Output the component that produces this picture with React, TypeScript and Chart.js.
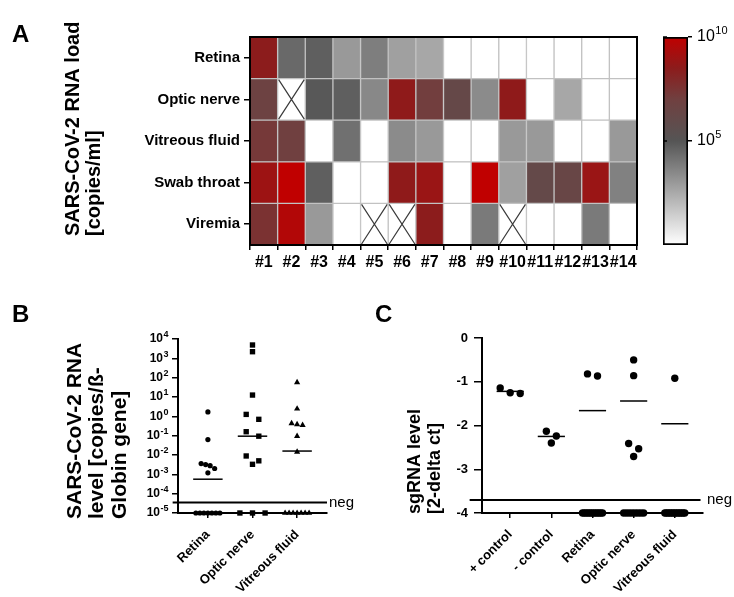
import React, { useEffect, useRef } from 'react';
import { Chart, registerables } from 'chart.js';

Chart.register(...registerables);

const FAMILY = "'Liberation Sans', Arial, sans-serif";
Chart.defaults.font.family = FAMILY;
Chart.defaults.color = '#000';

// ---------------- Panel A data (log10 copies/ml; 0 = negative, null = not tested) ----------------
const heatCols = ['#1', '#2', '#3', '#4', '#5', '#6', '#7', '#8', '#9', '#10', '#11', '#12', '#13', '#14'];
const heatRows = ['Retina', 'Optic nerve', 'Vitreous fluid', 'Swab throat', 'Viremia'];
const retinaLoad = [8.5, 4.4, 4.7, 3.0, 3.8, 2.8, 2.6, 0, 0, 0, 0, 0, 0, 0];
const opticLoad = [6.8, null, 4.9, 4.7, 3.5, 8.6, 7.1, 6.2, 3.4, 8.6, 0, 2.6, 0, 0];
const vitreousLoad = [7.3, 7.0, 0, 4.2, 0, 3.4, 3.0, 0, 0, 3.0, 3.0, 0, 0, 3.0];
const swabLoad = [9.0, 10.0, 4.7, 0, 0, 8.6, 8.9, 0, 10.0, 2.8, 6.1, 6.4, 8.9, 3.7];
const viremiaLoad = [7.6, 9.6, 3.0, 0, null, null, 8.5, 0, 3.9, null, 0, 0, 3.9, 0];
const colorbarRange = [1, 1e10];
const colorbarTicks = [1e5, 1e10];

// ---------------- Panel B data ----------------
const bCats = ['Retina', 'Optic nerve', 'Vitreous fluid'];
const bRetina = [1.7, 0.063, 3.6e-3, 3.2e-3, 2.8e-3, 2.0e-3, 1.2e-3, 1e-5, 1e-5, 1e-5, 1e-5, 1e-5, 1e-5, 1e-5];
const bOptic = [4.9e3, 2.2e3, 12.6, 1.26, 0.7, 0.16, 0.094, 8.9e-3, 5e-3, 3.3e-3, 1e-5, 1e-5, 1e-5];
const bVitreous = [57, 2.45, 0.43, 0.38, 0.35, 0.094, 0.0145, 1e-5, 1e-5, 1e-5, 1e-5, 1e-5, 1e-5, 1e-5];
const bMedians = [5.6e-4, 0.094, 0.016];
const bNeg = 3.5e-5;
const bTicks = [1e-5, 1e-4, 1e-3, 1e-2, 1e-1, 1, 10, 100, 1e3, 1e4];

// ---------------- Panel C data ----------------
const cCats = ['+ control', '- control', 'Retina', 'Optic nerve', 'Vitreous fluid'];
const cPosCtrl = [-1.14, -1.25, -1.27];
const cNegCtrl = [-2.13, -2.24, -2.4];
const cRetina = [-0.82, -0.87, -4, -4, -4, -4, -4, -4, -4, -4, -4, -4, -4, -4];
const cOptic = [-0.5, -0.86, -2.41, -2.53, -2.71, -4, -4, -4, -4, -4, -4, -4, -4];
const cVitreous = [-0.92, -4, -4, -4, -4, -4, -4, -4, -4, -4, -4, -4, -4, -4];
const cMedians = [-1.22, -2.25, -1.66, -1.44, -1.96];
const cNeg = -3.7;
const cTicks = [-4, -3, -2, -1, 0];

// ---------------- helpers ----------------
const HEAT_STOPS: [number, number[]][] = [
  [0, [255, 255, 255]],
  [5, [85, 85, 85]],
  [7, [112, 64, 64]],
  [8.5, [140, 28, 28]],
  [10, [192, 0, 0]],
];
const rgb = (c: number[]) => `rgb(${c.map((x) => Math.round(x)).join(',')})`;
function heatColor(v: number) {
  if (v <= HEAT_STOPS[0][0]) return rgb(HEAT_STOPS[0][1]);
  for (let i = 1; i < HEAT_STOPS.length; i++) {
    const [b, cb] = HEAT_STOPS[i];
    if (v <= b) {
      const [a, ca] = HEAT_STOPS[i - 1];
      const t = (v - a) / (b - a);
      return rgb(ca.map((x, k) => x + (cb[k] - x) * t));
    }
  }
  return rgb(HEAT_STOPS[HEAT_STOPS.length - 1][1]);
}

const exponentOf = (v: number) => String(Math.round(Math.log10(v)));

// scatter-dot layout: points in the same pixel row are spread symmetrically around the category
function spread(values: number[], cat: number, toPx: (v: number) => number, pxPerX: number, step: number, rowPx: number, maxSpan: number) {
  const sorted = [...values].sort((a, b) => b - a);
  const rows: number[][] = [];
  let cur: number[] = [];
  let startY = 0;
  sorted.forEach((v) => {
    const y = toPx(v);
    if (cur.length && Math.abs(y - startY) < rowPx) cur.push(v);
    else {
      if (cur.length) rows.push(cur);
      cur = [v];
      startY = y;
    }
  });
  if (cur.length) rows.push(cur);
  const pts: { x: number; y: number }[] = [];
  rows.forEach((row) => {
    const n = row.length;
    const s = n > 1 ? Math.min(step, maxSpan / (n - 1)) : 0;
    row.forEach((v, k) => pts.push({ x: cat + ((k - (n - 1) / 2) * s) / pxPerX, y: v }));
  });
  return pts;
}

// draws "10" with a raised exponent for every tick of a log axis
function drawPowerLabels(chart: any, o: any) {
  const ctx = chart.ctx;
  const scale = chart.scales.y;
  ctx.save();
  ctx.fillStyle = '#000';
  ctx.textBaseline = 'middle';
  ctx.textAlign = 'left';
  scale.ticks.forEach((t: any) => {
    const y = scale.getPixelForValue(t.value);
    const exp = exponentOf(t.value);
    ctx.font = o.baseFont;
    const wb = ctx.measureText('10').width;
    ctx.font = o.supFont;
    const we = ctx.measureText(exp).width;
    const x0 = o.align === 'right' ? o.x - wb - we : o.x;
    ctx.font = o.baseFont;
    ctx.fillText('10', x0, y);
    ctx.font = o.supFont;
    ctx.fillText(exp, x0 + wb + 0.5, y - o.raise);
  });
  ctx.restore();
}

const decoPlugin = {
  id: 'deco',
  afterDraw(chart: any, _args: any, o: any) {
    const ctx = chart.ctx;
    ctx.save();
    ctx.fillStyle = '#000';
    if (o.frame) {
      const a = chart.chartArea;
      ctx.strokeStyle = '#000';
      ctx.lineWidth = 2;
      ctx.strokeRect(a.left, a.top, a.right - a.left, a.bottom - a.top);
    }
    if (o.innerTicks) {
      const a = chart.chartArea;
      const s = chart.scales.y;
      ctx.strokeStyle = '#000';
      ctx.lineWidth = 1.5;
      s.ticks.forEach((t: any) => {
        const y = s.getPixelForValue(t.value);
        ctx.beginPath();
        ctx.moveTo(a.left, y);
        ctx.lineTo(a.left + 4, y);
        ctx.stroke();
      });
    }
    if (o.letter) {
      ctx.font = `bold 24px ${FAMILY}`;
      ctx.textAlign = 'left';
      ctx.textBaseline = 'alphabetic';
      ctx.fillText(o.letter, o.letterX, o.letterY);
    }
    if (o.titleLines) {
      ctx.font = o.titleFont;
      ctx.textAlign = 'left';
      ctx.textBaseline = 'middle';
      o.titleLines.forEach((line: string, i: number) => {
        ctx.save();
        ctx.translate(o.titleX + i * o.titleLineHeight, o.titleBottom);
        ctx.rotate(-Math.PI / 2);
        ctx.fillText(line, 0, 0);
        ctx.restore();
      });
    }
    if (o.negText) {
      const y = chart.scales.y.getPixelForValue(o.negValue);
      ctx.font = `15px ${FAMILY}`;
      ctx.textAlign = 'left';
      ctx.textBaseline = 'middle';
      ctx.fillText(o.negText, chart.chartArea.right + o.negGap, y);
    }
    ctx.restore();
    if (o.power) drawPowerLabels(chart, o.power);
  },
};

const crossPlugin = {
  id: 'cross',
  afterDatasetsDraw(chart: any) {
    const ctx = chart.ctx;
    chart.data.datasets.forEach((ds: any, di: number) => {
      if (!ds.loads) return;
      const meta = chart.getDatasetMeta(di);
      ds.loads.forEach((v: number | null, j: number) => {
        if (v !== null) return;
        const el = meta.data[j];
        const { x, y, base, width } = el.getProps(['x', 'y', 'base', 'width'], true);
        const l = x - width / 2 + 1, r = x + width / 2 - 1;
        const t = Math.min(y, base) + 1, b = Math.max(y, base) - 1;
        ctx.save();
        ctx.strokeStyle = '#3a3a3a';
        ctx.lineWidth = 1.2;
        ctx.beginPath();
        ctx.moveTo(l, t);
        ctx.lineTo(r, b);
        ctx.moveTo(r, t);
        ctx.lineTo(l, b);
        ctx.stroke();
        ctx.restore();
      });
    });
  },
};

const boldFont = (size: number) => ({ family: FAMILY, size, weight: 'bold' as const });
const tickGrid = (len: number) => ({ display: true, drawOnChartArea: false, drawTicks: true, tickLength: len, color: '#000', lineWidth: 1.5 });
const axisBorder = { display: true, color: '#000', width: 2 };
const noPlugins = { legend: { display: false }, tooltip: { enabled: false } };

// ---------------- Panel A: heat map ----------------
function heatConfig(): any {
  const bottomUp = [viremiaLoad, swabLoad, vitreousLoad, opticLoad, retinaLoad];
  const labelsBottomUp = [...heatRows].reverse();
  return {
    type: 'bar',
    data: {
      labels: heatCols,
      datasets: bottomUp.map((vals, r) => ({
        label: labelsBottomUp[r],
        data: vals.map(() => 1),
        loads: vals,
        backgroundColor: vals.map((v) => (v === null ? '#ffffff' : heatColor(v))),
        borderColor: '#c2c2c2',
        borderWidth: 1,
        borderSkipped: false,
        barPercentage: 1,
        categoryPercentage: 1,
      })),
    },
    options: {
      animation: false,
      responsive: false,
      layout: { padding: { left: 0, top: 37, right: 18, bottom: 0 } },
      plugins: {
        ...noPlugins,
        deco: {
          frame: true,
          letter: 'A', letterX: 12, letterY: 42,
          titleLines: ['SARS-CoV-2 RNA load', '[copies/ml]'],
          titleFont: `bold 20px ${FAMILY}`, titleX: 73, titleLineHeight: 21, titleBottom: 236,
        },
      },
      scales: {
        x: {
          stacked: true,
          grid: tickGrid(5),
          border: axisBorder,
          ticks: { font: boldFont(16), color: '#000', maxRotation: 0, minRotation: 0, autoSkip: false, padding: 3 },
          afterFit: (s: any) => { s.height = 45; },
        },
        y: {
          stacked: true,
          min: 0,
          max: 5,
          afterBuildTicks: (s: any) => { s.ticks = labelsBottomUp.map((_, i) => ({ value: i + 0.5 })); },
          ticks: { font: boldFont(15), color: '#000', padding: 4, callback: (v: number) => labelsBottomUp[Math.floor(v)] },
          grid: tickGrid(6),
          border: axisBorder,
          afterFit: (s: any) => { s.width = 250; },
        },
      },
    },
    plugins: [crossPlugin, decoPlugin],
  };
}

// ---------------- Panel A: colour bar ----------------
function colorbarConfig(): any {
  return {
    type: 'bar',
    data: {
      labels: [''],
      datasets: [{
        data: [colorbarRange],
        backgroundColor: (c: any) => {
          const a = c.chart.chartArea;
          if (!a) return '#888';
          const g = c.chart.ctx.createLinearGradient(0, a.bottom, 0, a.top);
          HEAT_STOPS.forEach(([v, col]) => g.addColorStop(v / 10, rgb(col)));
          return g;
        },
        borderColor: '#000',
        borderWidth: 2,
        borderSkipped: false,
        barPercentage: 1,
        categoryPercentage: 1,
      }],
    },
    options: {
      animation: false,
      responsive: false,
      layout: { padding: { left: 8, top: 37, right: 0, bottom: 45 } },
      plugins: {
        ...noPlugins,
        deco: {
          innerTicks: true,
          power: { x: 42, align: 'left', baseFont: `16px ${FAMILY}`, supFont: `11px ${FAMILY}`, raise: 6 },
        },
      },
      scales: {
        x: { display: false },
        y: {
          type: 'logarithmic',
          position: 'right',
          min: colorbarRange[0],
          max: colorbarRange[1],
          afterBuildTicks: (s: any) => { s.ticks = colorbarTicks.map((value) => ({ value })); },
          ticks: { display: false },
          grid: tickGrid(4),
          border: { display: false },
          afterFit: (s: any) => { s.width = 46; },
        },
      },
    },
    plugins: [decoPlugin],
  };
}

// ---------------- Panel B ----------------
const bXMin = -0.67, bXMax = 2.67;
function bConfig(): any {
  const pxPerX = 149 / (bXMax - bXMin);
  const toPx = (v: number) => Math.log10(v) * (174 / 9);
  const pointSet = (vals: number[], cat: number, style: string, radius: number, step: number, rowPx: number, span: number) => ({
    data: spread(vals, cat, toPx, pxPerX, step, rowPx, span),
    pointStyle: style,
    pointRadius: radius,
    pointBackgroundColor: '#000',
    pointBorderWidth: 0,
    clip: false,
  });
  const medians = bMedians.map((m, i) => ({
    data: [{ x: i - 0.33, y: m }, { x: i + 0.33, y: m }],
    showLine: true, pointRadius: 0, borderColor: '#000', borderWidth: 1.5, clip: false,
  }));
  return {
    type: 'scatter',
    data: {
      datasets: [
        pointSet(bRetina, 0, 'circle', 2.6, 4.5, 5, 24),
        pointSet(bOptic, 1, 'rect', 3.8, 12.6, 6, 26),
        pointSet(bVitreous, 2, 'triangle', 3.6, 5.5, 5, 24),
        ...medians,
        {
          data: [{ x: bXMin - 0.12, y: bNeg }, { x: bXMax, y: bNeg }],
          showLine: true, pointRadius: 0, borderColor: '#000', borderWidth: 2, clip: false,
        },
      ],
    },
    options: {
      animation: false,
      responsive: false,
      layout: { padding: { left: 0, top: 49, right: 43, bottom: 0 } },
      plugins: {
        ...noPlugins,
        deco: {
          letter: 'B', letterX: 12, letterY: 32,
          titleLines: ['SARS-CoV-2 RNA', 'level [copies/ß-', 'Globin gene]'],
          titleFont: `bold 21px ${FAMILY}`, titleX: 75, titleLineHeight: 22.5, titleBottom: 229,
          negText: 'neg', negValue: bNeg, negGap: 2,
          power: { x: 168, align: 'right', baseFont: `bold 12px ${FAMILY}`, supFont: `bold 9px ${FAMILY}`, raise: 4 },
        },
      },
      scales: {
        x: {
          type: 'linear', min: bXMin, max: bXMax,
          afterBuildTicks: (s: any) => { s.ticks = bCats.map((_, i) => ({ value: i })); },
          ticks: { font: boldFont(13), color: '#000', autoSkip: false, minRotation: 45, maxRotation: 45, padding: 9, callback: (v: number) => bCats[v] },
          grid: tickGrid(5),
          border: axisBorder,
          afterFit: (s: any) => { s.height = 84; },
        },
        y: {
          type: 'logarithmic', min: bTicks[0], max: bTicks[bTicks.length - 1],
          afterBuildTicks: (s: any) => { s.ticks = bTicks.map((value) => ({ value })); },
          ticks: { display: false },
          grid: tickGrid(6),
          border: axisBorder,
          afterFit: (s: any) => { s.width = 178; },
        },
      },
    },
    plugins: [decoPlugin],
  };
}

// ---------------- Panel C ----------------
const cXMin = -0.685, cXMax = 4.685;
function cConfig(): any {
  const pxPerX = 221 / (cXMax - cXMin);
  const toPx = (v: number) => v * (175 / 4);
  const groups = [cPosCtrl, cNegCtrl, cRetina, cOptic, cVitreous];
  const points = groups.map((vals, i) => ({
    data: spread(vals, i, toPx, pxPerX, 10, 7, 20),
    pointStyle: 'circle',
    pointRadius: 3.7,
    pointBackgroundColor: '#000',
    pointBorderWidth: 0,
    clip: false,
  }));
  const medians = cMedians.map((m, i) => ({
    data: [{ x: i - 0.33, y: m }, { x: i + 0.33, y: m }],
    showLine: true, pointRadius: 0, borderColor: '#000', borderWidth: 1.5, clip: false,
  }));
  return {
    type: 'scatter',
    data: {
      datasets: [
        ...points,
        ...medians,
        {
          data: [{ x: cXMin - 0.3, y: cNeg }, { x: cXMax - 0.06, y: cNeg }],
          showLine: true, pointRadius: 0, borderColor: '#000', borderWidth: 2, clip: false,
        },
      ],
    },
    options: {
      animation: false,
      responsive: false,
      layout: { padding: { left: 0, top: 48, right: 31, bottom: 0 } },
      plugins: {
        ...noPlugins,
        deco: {
          letter: 'C', letterX: 5, letterY: 32,
          titleLines: ['sgRNA level', '[2-delta ct]'],
          titleFont: `bold 18px ${FAMILY}`, titleX: 45, titleLineHeight: 20, titleBottom: 224,
          negText: 'neg', negValue: cNeg, negGap: 4,
        },
      },
      scales: {
        x: {
          type: 'linear', min: cXMin, max: cXMax,
          afterBuildTicks: (s: any) => { s.ticks = cCats.map((_, i) => ({ value: i })); },
          ticks: { font: boldFont(13), color: '#000', autoSkip: false, minRotation: 45, maxRotation: 45, padding: 9, callback: (v: number) => cCats[v] },
          grid: tickGrid(5),
          border: axisBorder,
          afterFit: (s: any) => { s.height = 84; },
        },
        y: {
          type: 'linear', min: cTicks[0], max: cTicks[cTicks.length - 1],
          afterBuildTicks: (s: any) => { s.ticks = cTicks.map((value) => ({ value })); },
          ticks: { font: boldFont(13), color: '#000', padding: 6, callback: (v: number) => String(v) },
          grid: tickGrid(8),
          border: axisBorder,
          afterFit: (s: any) => { s.width = 112; },
        },
      },
    },
    plugins: [decoPlugin],
  };
}

function ChartBox({ left, top, width, height, make }: { left: number; top: number; width: number; height: number; make: () => any }) {
  const ref = useRef<HTMLCanvasElement>(null);
  useEffect(() => {
    const chart = new Chart(ref.current as HTMLCanvasElement, make());
    return () => chart.destroy();
  }, []);
  return (
    <canvas
      ref={ref}
      width={width}
      height={height}
      style={{ position: 'absolute', left, top, width, height, display: 'block' }}
    />
  );
}

export default function App() {
  return (
    <div style={{ position: 'absolute', left: 0, top: 0, width: 734, height: 597, background: '#fff', overflow: 'hidden' }}>
      <ChartBox left={0} top={0} width={655} height={290} make={heatConfig} />
      <ChartBox left={655} top={0} width={79} height={290} make={colorbarConfig} />
      <ChartBox left={0} top={290} width={370} height={307} make={bConfig} />
      <ChartBox left={370} top={290} width={364} height={307} make={cConfig} />
    </div>
  );
}
